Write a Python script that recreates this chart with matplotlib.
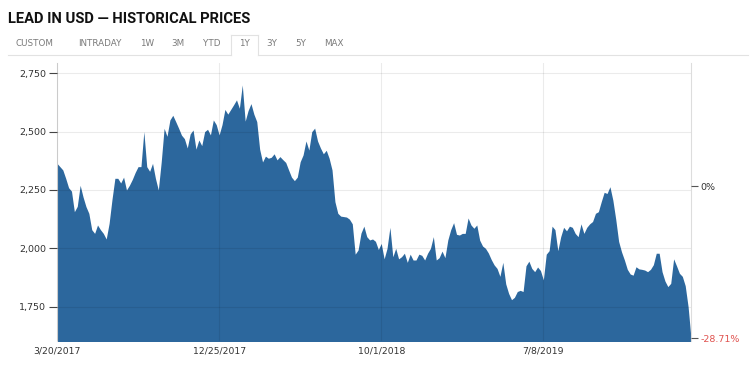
import numpy as np
import pandas as pd
import matplotlib.pyplot as plt
from matplotlib.lines import Line2D

# 5 day samples, 3/20/2017 -> 3/19/2020
dates = pd.date_range('2017-03-20', '2020-03-19', freq='5D')
prices = [
    2364, 2350, 2336, 2300, 2260, 2245, 2157, 2180, 2270, 2220, 2179, 2150, 2080, 2064, 2100, 2080,
    2064, 2040, 2107, 2210, 2300, 2300, 2280, 2305, 2250, 2270, 2295, 2325, 2350, 2350, 2500, 2350,
    2330, 2364, 2300, 2250, 2370, 2514, 2480, 2550, 2570, 2543, 2515, 2485, 2470, 2430, 2490, 2507,
    2425, 2464, 2440, 2500, 2510, 2486, 2550, 2530, 2486, 2530, 2595, 2575, 2595, 2615, 2636, 2600,
    2700, 2545, 2590, 2620, 2575, 2543, 2425, 2370, 2395, 2386, 2390, 2405, 2379, 2393, 2380, 2368,
    2336, 2305, 2290, 2305, 2371, 2400, 2460, 2421, 2500, 2515, 2460, 2430, 2405, 2420, 2386,
    2336, 2200, 2150, 2138, 2136, 2134, 2125, 2105, 1975, 1993, 2065, 2095, 2050, 2036, 2040, 2030,
    1995, 2021, 1955, 2000, 2090, 1964, 2000, 1955, 1964, 1979, 1940, 1975, 1950, 1950, 1975,
    1970, 1950, 1979, 2000, 2050, 1950, 1960, 1988, 1960, 2036, 2080, 2110, 2060, 2057, 2064, 2064,
    2130, 2100, 2086, 2100, 2035, 2010, 2000, 1980, 1952, 1929, 1914, 1880, 1940, 1848, 1807, 1780,
    1790, 1815, 1820, 1815, 1925, 1945, 1914, 1900, 1920, 1905, 1865, 1975, 1990, 2095, 2080, 1990,
    2050, 2090, 2075, 2095, 2090, 2064, 2050, 2105, 2064, 2090, 2105, 2115, 2150, 2157, 2200,
    2240, 2235, 2264, 2207, 2125, 2030, 1985, 1950, 1910, 1890, 1885, 1921, 1912, 1910, 1907, 1900,
    1910, 1930, 1979, 1979, 1900, 1860, 1836, 1850, 1955, 1925, 1893, 1880, 1840, 1750, 1615,
]

yticks = [1750, 2000, 2250, 2500, 2750]
xtick_dates = ['2017-03-20', '2017-12-25', '2018-10-01', '2019-07-08']
xtick_labels = ['3/20/2017', '12/25/2017', '10/1/2018', '7/8/2019']
tabs = ['CUSTOM', 'INTRADAY', '1W', '3M', 'YTD', '1Y', '3Y', '5Y', 'MAX']
tab_x = [34, 100, 147, 178, 212, 244, 272, 301, 334]
ref_price = 2265
last_price = 1615
right_labels = ['0%', '-28.71%']

W, H = 750, 370
fig = plt.figure(figsize=(7.5, 3.7), dpi=100)

# header
fig.text(8 / W, 1 - 19 / H, 'LEAD IN USD \u2014 HISTORICAL PRICES', fontsize=10.6,
         fontweight='bold', family='Roboto', color='#111111', va='center', ha='left')
for lab, x in zip(tabs, tab_x):
    fig.text(x / W, 1 - 44 / H, lab, fontsize=6.3, color='#7a7a7a', ha='center', va='center',
             family='DejaVu Sans')
lc = '#e2e2e2'
fig.add_artist(Line2D([8 / W, 231 / W], [1 - 55 / H] * 2, color=lc, lw=0.8))
fig.add_artist(Line2D([258 / W, 748 / W], [1 - 55 / H] * 2, color=lc, lw=0.8))
fig.add_artist(Line2D([231 / W] * 2, [1 - 55 / H, 1 - 35 / H], color=lc, lw=0.8))
fig.add_artist(Line2D([258 / W] * 2, [1 - 55 / H, 1 - 35 / H], color=lc, lw=0.8))
fig.add_artist(Line2D([231 / W, 258 / W], [1 - 35 / H] * 2, color=lc, lw=0.8))

ax = fig.add_axes([57 / W, 1 - 341 / H, (691 - 57) / W, (341 - 63) / H])
ax.fill_between(dates, prices, 1500, color='#2c679d', lw=0, zorder=1)

ax.set_xlim(dates[0], dates[-1])
ax.set_ylim(1603, 2794)
ax.set_yticks(yticks)
ax.set_yticklabels([f'{v:,}' for v in yticks])
ax.set_xticks(pd.to_datetime(xtick_dates))
ax.set_xticklabels(xtick_labels)
ax.grid(True, color='black', alpha=0.08, lw=0.8, zorder=3)
ax.set_axisbelow(False)
for s in ['top', 'bottom']:
    ax.spines[s].set_visible(False)
for s in ['left', 'right']:
    ax.spines[s].set_color('#dddddd')
    ax.spines[s].set_linewidth(0.8)
ax.tick_params(axis='y', length=6, width=0.8, color='#444444', labelsize=6.8,
               labelcolor='#333333', pad=2)
ax.tick_params(axis='x', length=0, labelsize=6.7, labelcolor='#333333', pad=4)

ax2 = ax.twinx()
ax2.set_ylim(ax.get_ylim())
ax2.set_yticks([ref_price, last_price])
ax2.set_yticklabels(right_labels)
for s in ax2.spines.values():
    s.set_visible(False)
ax2.tick_params(axis='y', length=5, width=0.8, color='#555555', labelsize=6.8, pad=2)
tl = ax2.get_yticklabels()
tl[0].set_color('#333333')
tl[1].set_color('#e0524f')

fig.savefig('out.png', dpi=100)
